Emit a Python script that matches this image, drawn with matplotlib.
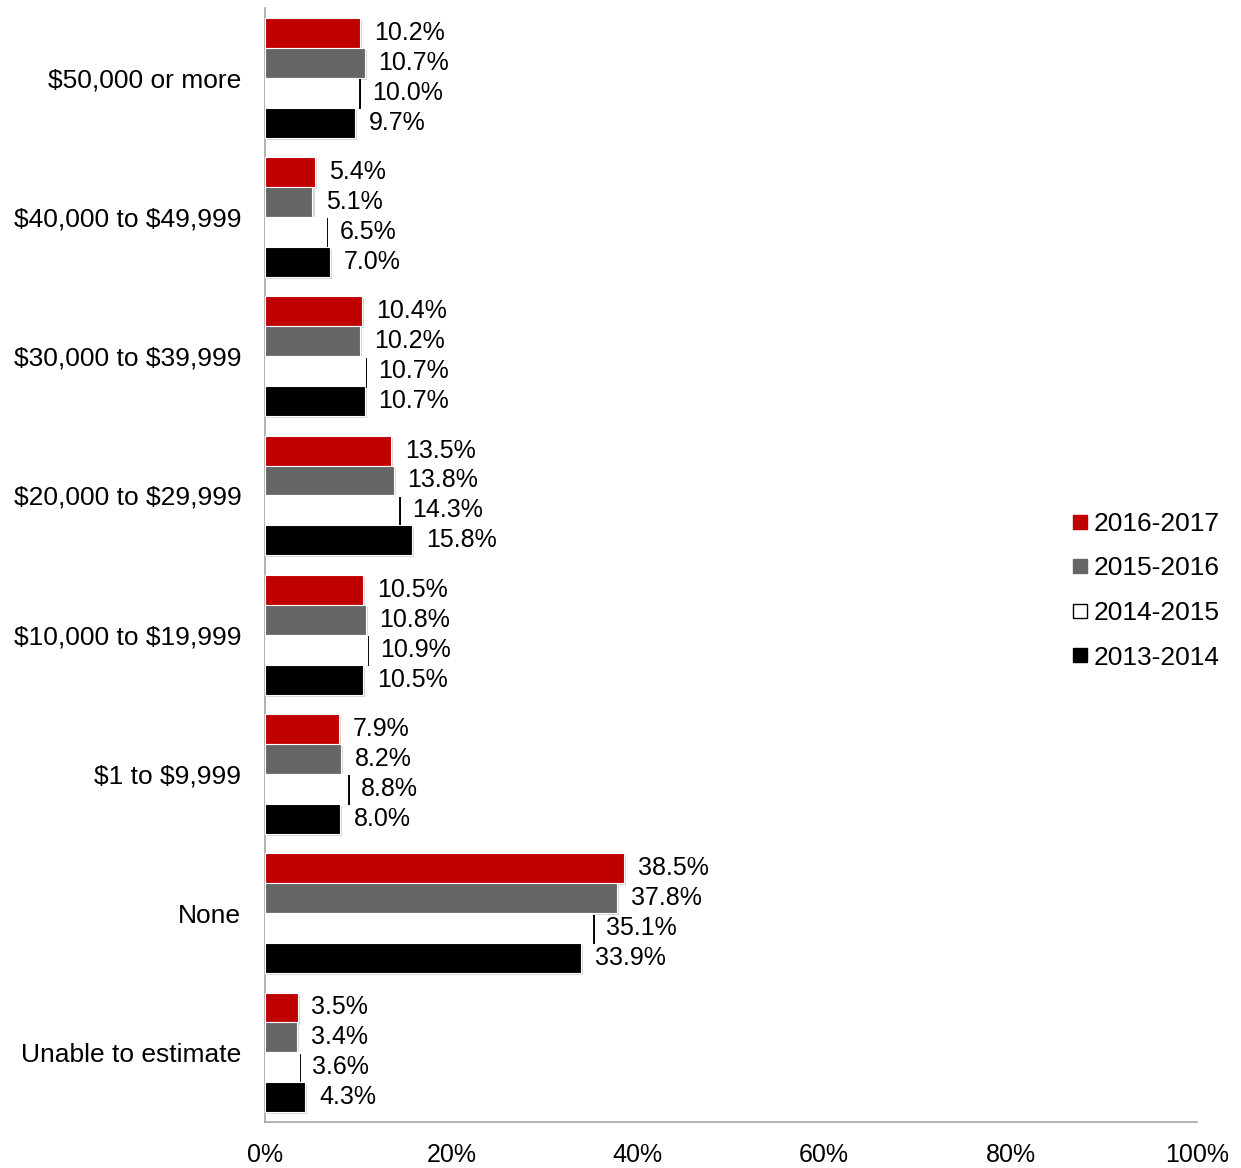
import matplotlib
matplotlib.use("Agg")
import matplotlib.pyplot as plt
import matplotlib.patheffects as pe
from matplotlib.lines import Line2D
import numpy as np

plt.rcParams["font.family"] = ["Liberation Sans", "DejaVu Sans"]
plt.rcParams["text.parse_math"] = False

categories = ["$50,000 or more", "$40,000 to $49,999", "$30,000 to $39,999",
              "$20,000 to $29,999", "$10,000 to $19,999", "$1 to $9,999",
              "None", "Unable to estimate"]
series = ["2016-2017", "2015-2016", "2014-2015", "2013-2014"]
v_2016_2017 = [10.2, 5.4, 10.4, 13.5, 10.5, 7.9, 38.5, 3.5]
v_2015_2016 = [10.7, 5.1, 10.2, 13.8, 10.8, 8.2, 37.8, 3.4]
v_2014_2015 = [10.0, 6.5, 10.7, 14.3, 10.9, 8.8, 35.1, 3.6]
v_2013_2014 = [9.7, 7.0, 10.7, 15.8, 10.5, 8.0, 33.9, 4.3]
values = [v_2016_2017, v_2015_2016, v_2014_2015, v_2013_2014]
colors = ["#c00000", "#666666", "#ffffff", "#000000"]

FS = 18

fig = plt.figure(figsize=(12.41, 11.68), dpi=100)
ax = fig.add_axes([0.2135, 0.0394, 0.7511, 0.9536])

y = np.arange(len(categories))
h = 0.215
for i, (name, vals, c) in enumerate(zip(series, values, colors)):
    pos = y - 1.5 * h + i * h
    bars = ax.barh(pos, vals, height=h, color=c, edgecolor="white", linewidth=0.8,
                   label=name, zorder=3)
    # white bars only show up through their dark drop shadow
    if c == "#ffffff":
        fx = [pe.SimplePatchShadow(offset=(2, -1), shadow_rgbFace="black", alpha=1.0),
              pe.Normal()]
    else:
        fx = [pe.SimplePatchShadow(offset=(1.5, -1.5), shadow_rgbFace="#999999", alpha=0.4),
              pe.Normal()]
    for b in bars:
        b.set_path_effects(fx)
    for p, v in zip(pos, vals):
        ax.annotate(f"{v:.1f}%", (v, p), xytext=(10, 0), textcoords="offset points",
                    va="center", ha="left", fontsize=FS)

ax.set_xlim(0, 100)
ax.set_ylim(len(categories) - 0.5, -0.5)
ax.set_xticks([0, 20, 40, 60, 80, 100])
ax.set_xticklabels([f"{t}%" for t in [0, 20, 40, 60, 80, 100]], fontsize=FS)
ax.set_yticks(y)
ax.set_yticklabels(categories, fontsize=19)
ax.tick_params(length=0)
ax.tick_params(axis="y", pad=17)
ax.tick_params(axis="x", pad=15)
for s in ["top", "right"]:
    ax.spines[s].set_visible(False)
for s in ["left", "bottom"]:
    ax.spines[s].set_color("#a6a6a6")
    ax.spines[s].set_linewidth(1.2)

handles = [Line2D([], [], marker="s", linestyle="none", markersize=10,
                  markerfacecolor=c, markeredgecolor="black" if c == "#ffffff" else c,
                  markeredgewidth=1.0)
           for c in colors]
ax.legend(handles, series, loc="center left", bbox_to_anchor=(0.835, 0.477), frameon=False,
          fontsize=19, handletextpad=0.0, handlelength=1.0, labelspacing=0.78)

fig.savefig("out.png", dpi=100)
